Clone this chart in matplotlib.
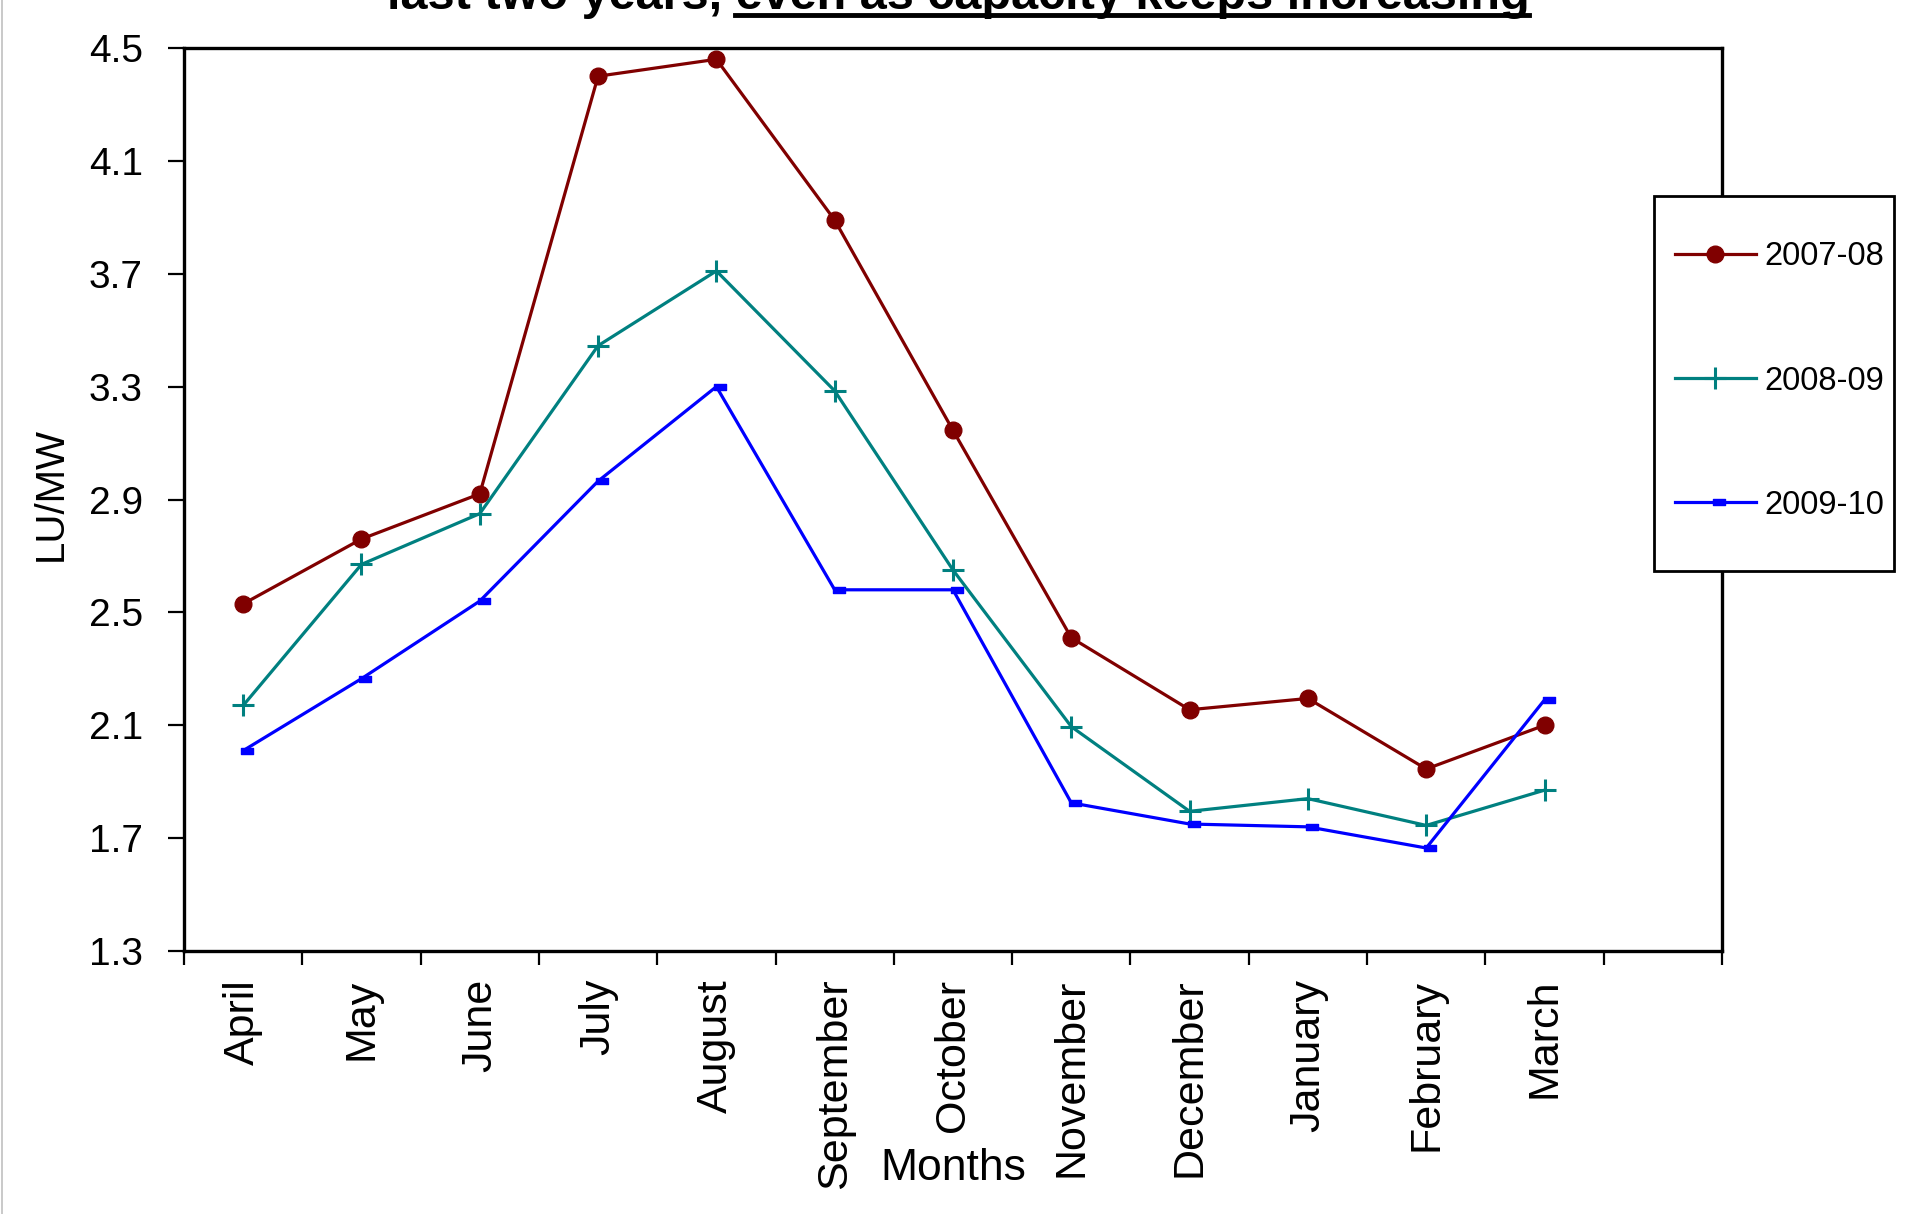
import numpy as np
import matplotlib
matplotlib.use("Agg")
import matplotlib.pyplot as plt
from matplotlib.path import Path
from matplotlib.lines import Line2D
from matplotlib.patches import Rectangle

# Chart data
months = ["April", "May", "June", "July", "August", "September", "October",
          "November", "December", "January", "February", "March"]
series_names = ["2007-08", "2008-09", "2009-10"]
lu_2007_08 = [2.53, 2.76, 2.92, 4.40, 4.46, 3.89, 3.145, 2.41, 2.155, 2.195, 1.945, 2.10]
lu_2008_09 = [2.17, 2.67, 2.85, 3.445, 3.71, 3.285, 2.65, 2.095, 1.795, 1.84, 1.745, 1.87]
lu_2009_10 = [2.01, 2.265, 2.54, 2.965, 3.30, 2.58, 2.58, 1.825, 1.75, 1.74, 1.665, 2.19]
y_ticks = [1.3, 1.7, 2.1, 2.5, 2.9, 3.3, 3.7, 4.1, 4.5]

title_plain = "last two years, "
title_underlined = "even as capacity keeps increasing"

plt.rcParams["font.family"] = ["Liberation Sans", "DejaVu Sans"]

W, H = 1921, 1214
fig = plt.figure(figsize=(W / 100, H / 100), dpi=100)
fig.patch.set_facecolor("white")
ax = fig.add_axes([184 / W, 1 - 951 / H, (1722 - 184) / W, (951 - 48) / H])

x = np.arange(len(months)) + 0.5

# Excel style short dash marker, sitting a bit to the right of the point
dash = Path([(-0.2, -0.25), (1, -0.25), (1, 0.25), (-0.2, 0.25), (-0.2, -0.25)],
            [Path.MOVETO, Path.LINETO, Path.LINETO, Path.LINETO, Path.CLOSEPOLY])

l1, = ax.plot(x, lu_2007_08, color="#800000", lw=2.3, marker="o", ms=12, label=series_names[0])
l2, = ax.plot(x, lu_2008_09, color="#008080", lw=2.3, marker="+", ms=16, mew=2.2, label=series_names[1])
l3, = ax.plot(x, lu_2009_10, color="#0000ff", lw=2.3, marker=dash, ms=15, label=series_names[2])

ax.set_xlim(0, len(months) + 1)
ax.set_ylim(1.3, 4.5)
ax.set_yticks(y_ticks)
ax.set_yticklabels(["%.1f" % v for v in y_ticks])

# category boundaries as major ticks, names on the minor ticks
ax.set_xticks(np.arange(0, len(months) + 2))
ax.set_xticklabels([])
ax.set_xticks(x, minor=True)
ax.set_xticklabels(months, minor=True, rotation=90, va="top", ha="center", fontsize=31)
ax.tick_params(axis="x", which="major", direction="out", length=10, width=1.6)
ax.tick_params(axis="x", which="minor", length=0, pad=20)
ax.tick_params(axis="y", direction="out", length=11.5, width=1.6, pad=18, labelsize=28)

for sp in ax.spines.values():
    sp.set_linewidth(2.4)
    sp.set_color("black")

ax.set_xlabel("Months", fontsize=32)
ax.xaxis.set_label_coords(0.5, -0.218)
fig.text(51 / W, 1 - 494 / H, "LU/MW", rotation=90, ha="center", va="center", fontsize=29)

# legend box drawn over the right spine, like the reference
fig.add_artist(Rectangle((1654 / W, 1 - 571 / H), 240 / W, 375 / H, transform=fig.transFigure,
                         facecolor="white", edgecolor="black", lw=2, zorder=4))
leg = fig.legend(handles=[l1, l2, l3], loc="center left", bbox_to_anchor=(1675 / W, 1 - 381 / H),
                 fontsize=23.5, numpoints=1, handlelength=2.48, handletextpad=0.25,
                 labelspacing=2.85, borderpad=0, borderaxespad=0, frameon=False)
leg.set_zorder(5)

# title, mostly cut off at the top edge, with the second half underlined
t = fig.text(958 / W, 1 - 9 / H, title_plain + title_underlined, ha="center", va="baseline",
             fontsize=35, fontweight="bold")
fig.canvas.draw()
r = fig.canvas.get_renderer()
bb = t.get_window_extent(r)
tmp = fig.text(0, 0, title_underlined, fontsize=35, fontweight="bold")
wb = tmp.get_window_extent(r).width
tmp.remove()
uy = 1 - 15 / H
fig.add_artist(Line2D([(bb.x1 - wb) / W, bb.x1 / W], [uy, uy], transform=fig.transFigure,
                      color="black", lw=3.5))

# thin grey border on the left edge of the picture
fig.add_artist(Line2D([1.5 / W, 1.5 / W], [0, 1], transform=fig.transFigure, color="#c0c0c0", lw=1.2))

fig.savefig("out.png", dpi=100)
